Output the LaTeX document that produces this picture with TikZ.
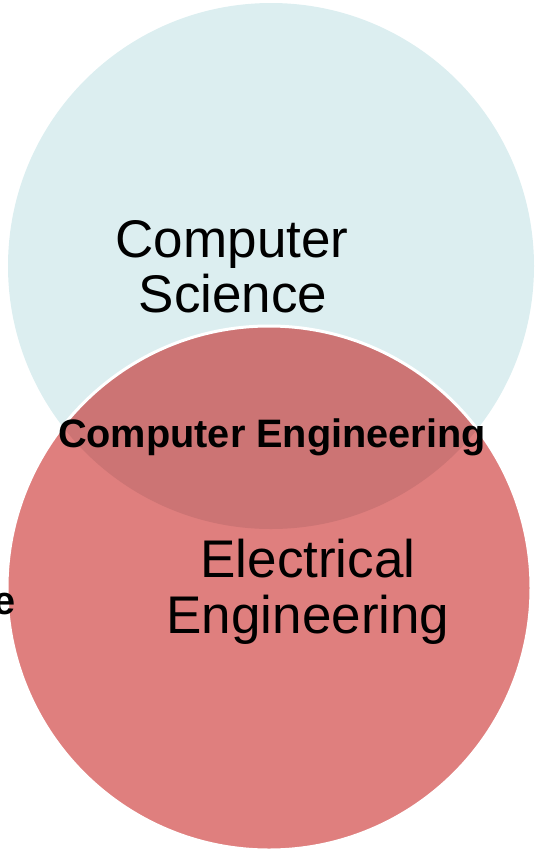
\documentclass[tikz,border=0pt]{standalone}
\usepackage{fontspec}
\setmainfont{Liberation Sans}
\definecolor{csblue}{HTML}{DCEEF0}
\definecolor{eered}{HTML}{DF7F7E}
\definecolor{cered}{HTML}{CC7474}

\begin{document}
\begin{tikzpicture}[x=1pt,y=-1pt,
  bigtext/.style={anchor=base,inner sep=0pt,font=\fontsize{53}{55}\selectfont},
  boldtext/.style={anchor=base,inner sep=0pt,font=\bfseries\fontsize{39.7}{40}\selectfont}]
\useasboundingbox (0,0) rectangle (535,852);
% the two circles
\fill[csblue] (271,266) circle (263pt);
\fill[eered] (269,588) circle (262pt);
\begin{scope}
\clip (269,588) circle (262pt);
\fill[cered] (271,266) circle (263pt);
\end{scope}
\draw[white,line width=3pt] (269,588) circle (262pt);
% labels
\node[bigtext] (cs1) at (232,257) {Computer};
\node[bigtext] (cs2) at (233,312) {Science};
\node[boldtext] (ce) at (272,447) {Computer Engineering};
\node[bigtext] (ee1) at (308,577) {Electrical};
\node[bigtext] (ee2) at (308,633) {Engineering};
\node[boldtext,anchor=base east] (cut) at (16,614) {e};
\end{tikzpicture}
\end{document}
